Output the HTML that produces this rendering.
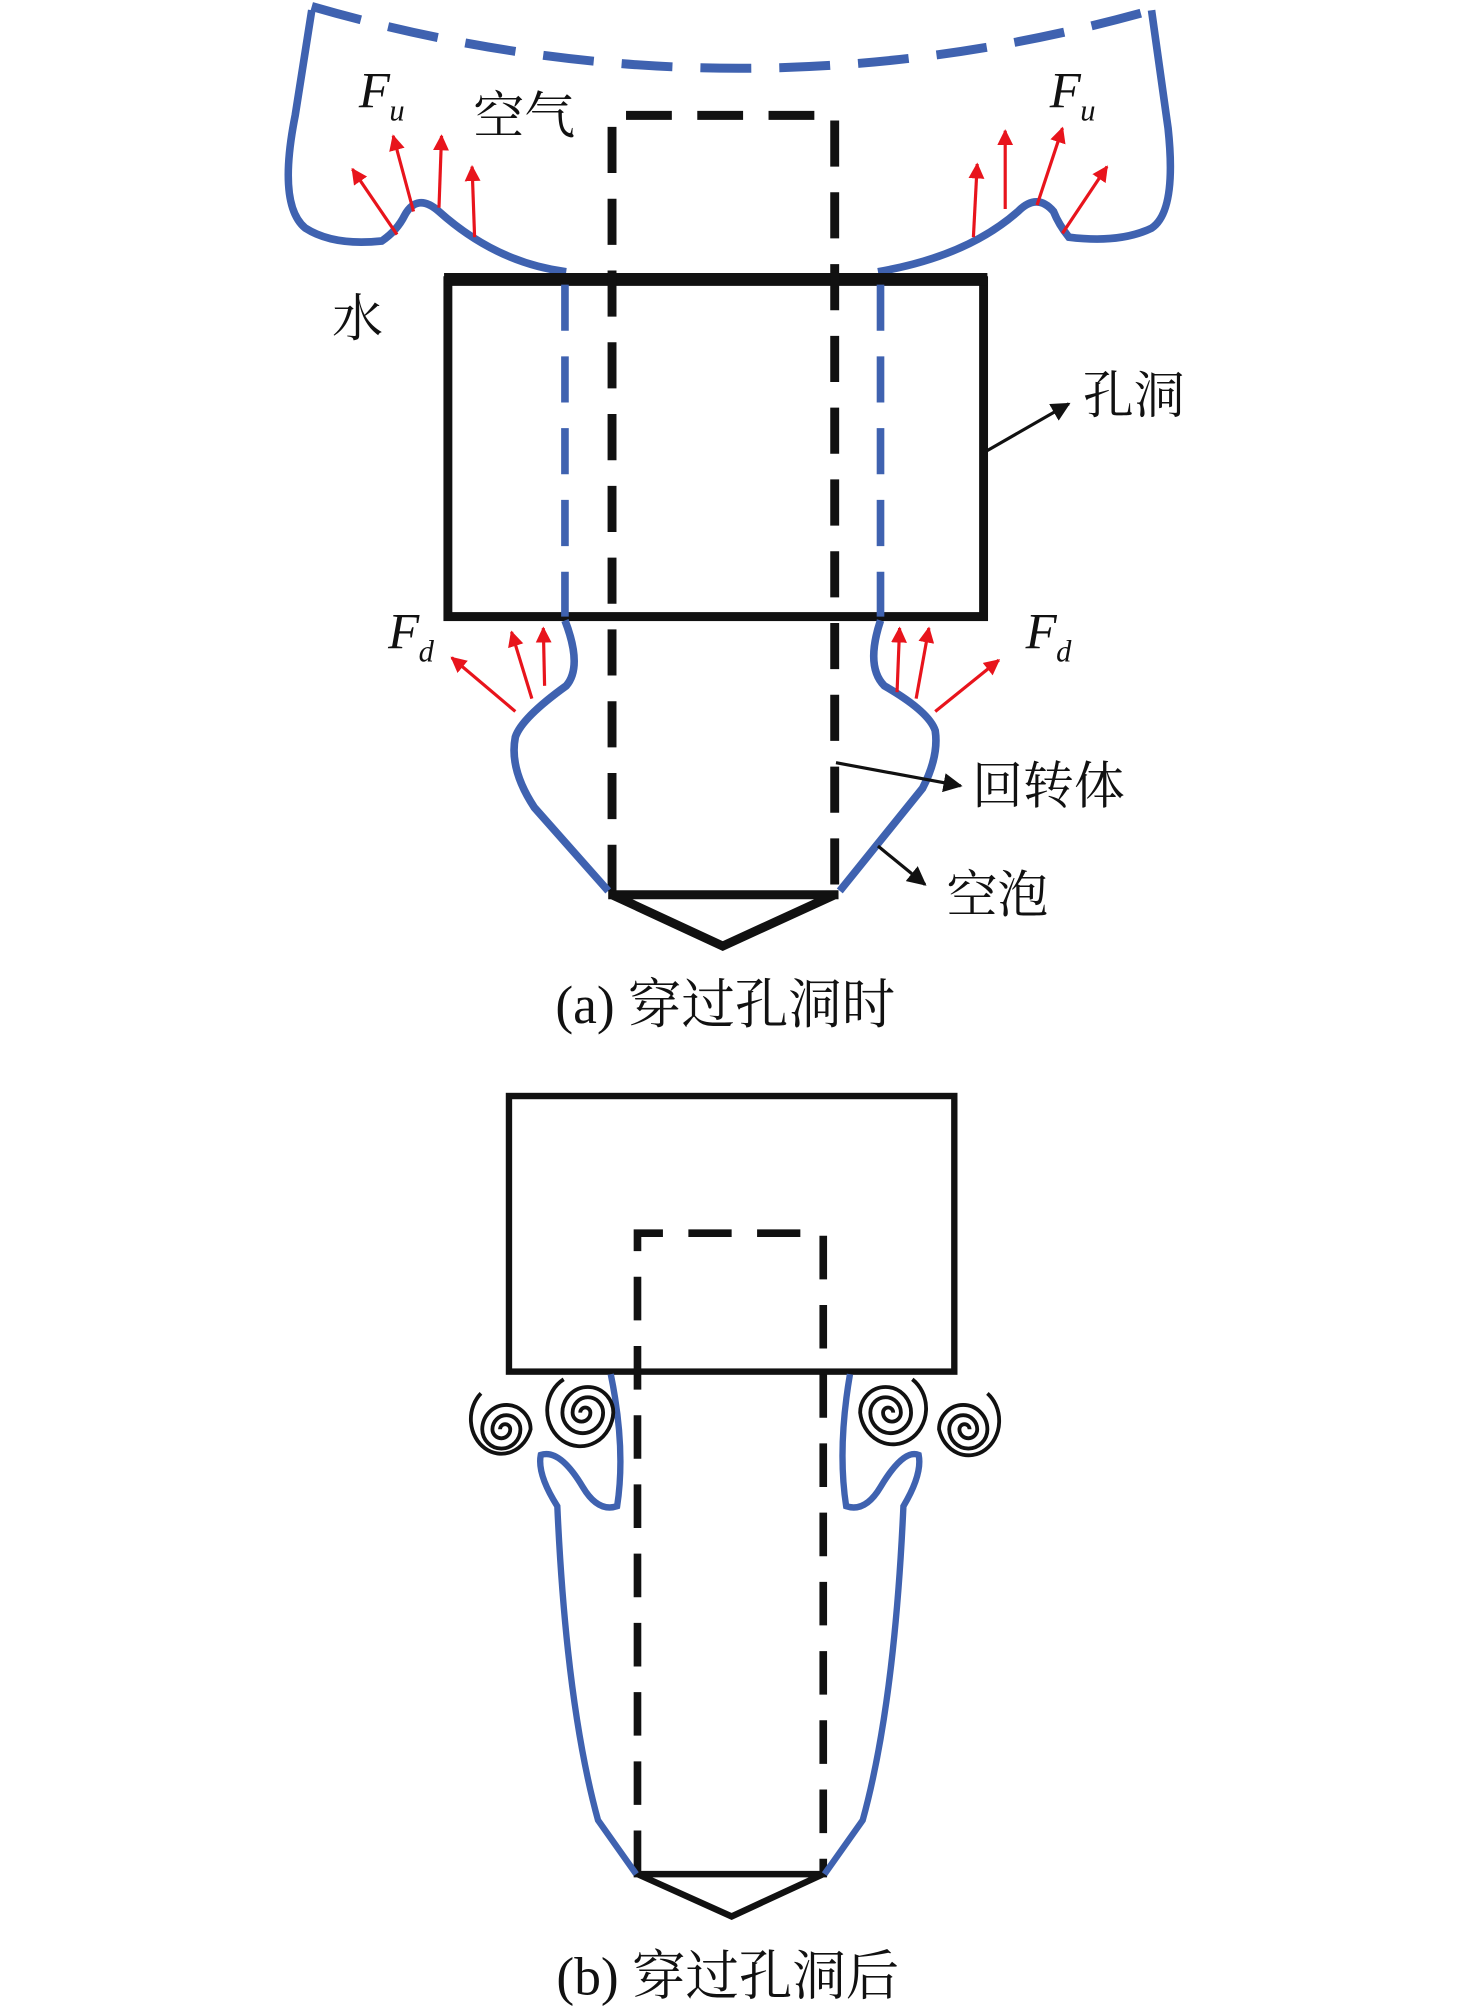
<!DOCTYPE html>
<html><head><meta charset="utf-8"><style>
html,body{margin:0;padding:0;background:#fff;}
svg{display:block;}
text{font-family:"Liberation Serif","Noto Serif CJK SC","Noto Sans CJK SC",serif;fill:#111;}
</style></head><body>
<svg width="1476" height="2010" viewBox="0 0 1160 1568" preserveAspectRatio="none" xmlns="http://www.w3.org/2000/svg">
<defs>
<marker id="ar" viewBox="0 0 10 10" refX="9" refY="5" markerWidth="5" markerHeight="5" orient="auto"><path d="M0,0 L10,5 L0,10 z" fill="#e8141c"/></marker>
<marker id="ak" viewBox="0 0 10 10" refX="9" refY="5" markerWidth="6" markerHeight="6" orient="auto"><path d="M0,0 L10,5 L0,10 z" fill="#111"/></marker>
</defs>
<g fill="none" stroke-linecap="butt">
<!-- (a) -->
<path d="M245,5 Q575,100 905,8" stroke="#3f62b0" stroke-width="7" stroke-dasharray="40,22"/>
<path d="M245,8 L232,90 Q218,160 240,178 Q262,192 300,188 Q312,180 318,168 Q328,150 345,165 Q390,205 445,212" stroke="#3f62b0" stroke-width="6"/>
<path d="M905,8 L918,100 Q925,165 905,178 Q880,190 840,185 Q832,175 828,165 Q815,150 800,165 Q760,200 690,212" stroke="#3f62b0" stroke-width="6"/>
<rect x="352" y="219" width="421" height="262" stroke="#111" stroke-width="7"/>
<line x1="349" y1="218" x2="776" y2="218" stroke="#111" stroke-width="10"/>
<path d="M481,695 L481,90 L656,90 L656,695" stroke="#111" stroke-width="7" stroke-dasharray="36,20"/>
<line x1="444" y1="222" x2="444" y2="481" stroke="#3f62b0" stroke-width="6" stroke-dasharray="36,20"/>
<line x1="692" y1="222" x2="692" y2="481" stroke="#3f62b0" stroke-width="6" stroke-dasharray="36,20"/>
<path d="M444,484 Q458,520 445,535 Q410,560 405,575 Q400,600 420,630 L478,695" stroke="#3f62b0" stroke-width="6"/>
<path d="M692,484 Q680,520 695,535 Q730,555 735,570 Q738,590 725,615 L660,695" stroke="#3f62b0" stroke-width="6"/>
<path d="M478,698 L659,698 M481,698 L568,738 L656,698" stroke="#111" stroke-width="7"/>
<g stroke="#e8141c" stroke-width="2.5" marker-end="url(#ar)">
<line x1="312" y1="183" x2="277" y2="132"/><line x1="325" y1="165" x2="309" y2="106"/>
<line x1="345" y1="162" x2="347" y2="106"/><line x1="373" y1="185" x2="371" y2="130"/>
<line x1="765" y1="185" x2="768" y2="128"/><line x1="790" y1="163" x2="790" y2="102"/>
<line x1="815" y1="160" x2="835" y2="100"/><line x1="835" y1="182" x2="870" y2="130"/>
<line x1="405" y1="555" x2="355" y2="513"/><line x1="418" y1="545" x2="402" y2="493"/>
<line x1="428" y1="535" x2="427" y2="490"/>
<line x1="705" y1="540" x2="707" y2="490"/><line x1="720" y1="545" x2="730" y2="490"/>
<line x1="735" y1="555" x2="785" y2="515"/>
</g>
<g stroke="#111" stroke-width="2.5" marker-end="url(#ak)">
<line x1="775" y1="352" x2="840" y2="315"/>
<line x1="657" y1="595" x2="755" y2="613"/>
<line x1="690" y1="660" x2="727" y2="690"/>
</g>
<!-- (b) -->
<rect x="400" y="855" width="350" height="215" stroke="#111" stroke-width="5"/>
<path d="M501,1462 L501,962 L647,962 L647,1462" stroke="#111" stroke-width="6" stroke-dasharray="34,20"/>
<path d="M498,1462 L650,1462 M501,1462 L575,1495 L647,1462" stroke="#111" stroke-width="5"/>
<path d="M480,1072 Q492,1130 485,1175 Q470,1180 458,1160 Q440,1130 425,1135 Q422,1150 438,1175 Q445,1330 470,1420 L500,1462" stroke="#3f62b0" stroke-width="5"/>
<path d="M668,1072 Q658,1130 665,1175 Q680,1180 692,1160 Q710,1130 722,1135 Q725,1150 710,1175 Q703,1330 678,1420 L648,1462" stroke="#3f62b0" stroke-width="5"/>
<g stroke="#111" stroke-width="3">
<path d="M378,1087 A24,27 0 1 0 417,1115 A19,19 0 0 0 379,1115 A15,15 0 0 0 409,1115 A11,11 0 0 0 387,1115 A7,7 0 0 0 401,1115 A4,4 0 0 0 393,1115"/>
<path d="M443,1076 A26,28 0 1 0 482,1102 A20,20 0 0 0 442,1102 A16,16 0 0 0 474,1102 A12,12 0 0 0 450,1102 A7,7 0 0 0 464,1102 A4,4 0 0 0 456,1102"/>
<path d="M717,1076 A26,28 0 1 1 676,1102 A20,20 0 0 1 716,1102 A16,16 0 0 1 684,1102 A12,12 0 0 1 708,1102 A7,7 0 0 1 694,1102 A4,4 0 0 1 702,1102"/>
<path d="M776,1087 A24,27 0 1 1 738,1115 A19,19 0 0 1 776,1115 A15,15 0 0 1 746,1115 A11,11 0 0 1 768,1115 A7,7 0 0 1 754,1115 A4,4 0 0 1 762,1115"/>
</g>
</g>
<g font-size="40">
<text x="282" y="84" font-style="italic">F</text><text x="306" y="94" font-size="24" font-style="italic">u</text>
<text x="825" y="84" font-style="italic">F</text><text x="849" y="94" font-size="24" font-style="italic">u</text>
<text x="305" y="506" font-style="italic">F</text><text x="329" y="516" font-size="24" font-style="italic">d</text>
<text x="806" y="506" font-style="italic">F</text><text x="830" y="516" font-size="24" font-style="italic">d</text>
<text x="372" y="104">空气</text>
<text x="261" y="262">水</text>
<text x="851" y="322">孔洞</text>
<text x="764" y="627">回转体</text>
<text x="744" y="712">空泡</text>
<text x="570" y="798" text-anchor="middle" font-size="42">(a) 穿过孔洞时</text>
<text x="572" y="1556" text-anchor="middle" font-size="42">(b) 穿过孔洞后</text>
</g>
</svg>
</body></html>
